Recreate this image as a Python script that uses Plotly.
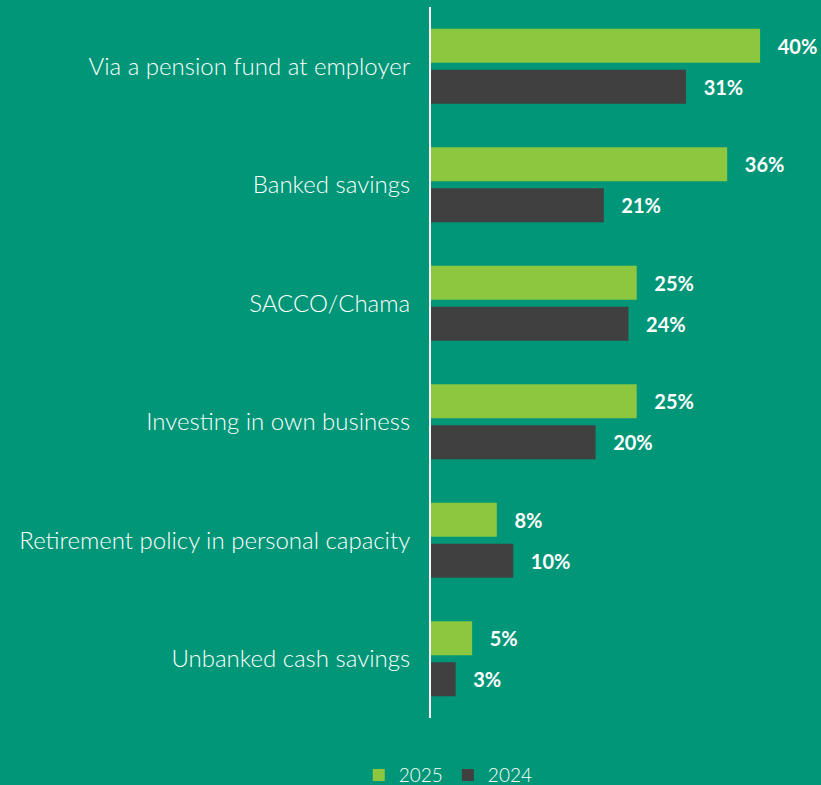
import plotly.graph_objects as go

categories = [
    "Via a pension fund at employer",
    "Banked savings",
    "SACCO/Chama",
    "Investing in own business",
    "Retirement policy in personal capacity",
    "Unbanked cash savings",
]
values_2025 = [40, 36, 25, 25, 8, 5]
values_2024 = [31, 21, 24, 20, 10, 3]

BG = "#009677"
GREEN = "#8DC63F"
DARK = "#404040"
FONT = "Lato"

fig = go.Figure()
for name, vals, color in [("2025", values_2025, GREEN), ("2024", values_2024, DARK)]:
    fig.add_trace(go.Bar(
        name=name,
        y=categories,
        x=vals,
        orientation="h",
        marker=dict(color=color, line=dict(width=0)),
        text=[f"\u00a0\u00a0\u00a0{v}%" for v in vals],
        textposition="outside",
        textfont=dict(family=FONT, size=20, color="white", weight="bold"),
        cliponaxis=False,
    ))

fig.update_layout(
    width=821,
    height=785,
    paper_bgcolor=BG,
    plot_bgcolor=BG,
    barmode="group",
    bargap=0.308,
    bargroupgap=0.17,
    margin=dict(l=431, r=0, t=7, b=67),
    font=dict(family=FONT, color="white"),
    xaxis=dict(range=[0, 47.4], visible=False, showgrid=False, zeroline=False),
    yaxis=dict(
        autorange="reversed",
        showgrid=False,
        zeroline=False,
        showline=True,
        linecolor="white",
        linewidth=2,
        ticks="",
        ticklabelstandoff=14,
        tickfont=dict(family=FONT, size=24, color="white", weight=300),
    ),
    legend=dict(
        orientation="h",
        xref="container",
        yref="container",
        x=0.546,
        xanchor="center",
        y=0.0127,
        yanchor="middle",
        font=dict(family=FONT, size=19, color="white", weight=300),
        itemwidth=30,
        traceorder="normal",
    ),
)

fig.write_html("out.html")
